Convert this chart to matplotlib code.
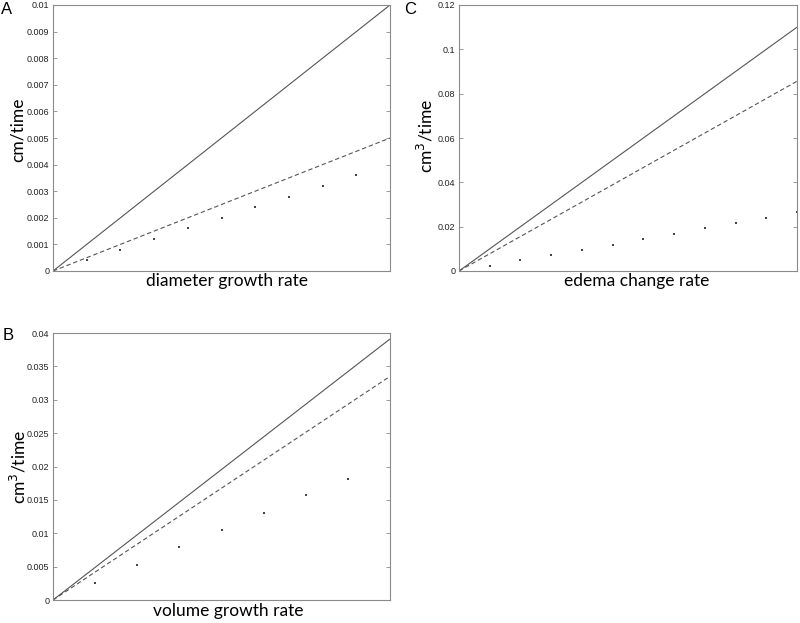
import matplotlib
matplotlib.use("Agg")
import matplotlib.pyplot as plt
import numpy as np

# ---- data ----
# Panel A: diameter growth rate
a_line_x = [0.0, 1.0]
a_solid_y = [0.0, 0.01]
a_dashed_y = [0.0, 0.005]
a_dots_x = [0.1, 0.2, 0.3, 0.4, 0.5, 0.6, 0.7, 0.8, 0.9]
a_dots_y = [0.0004, 0.0008, 0.0012, 0.0016, 0.0020, 0.0024, 0.0028, 0.0032, 0.0036]
a_yticks = [0, 0.001, 0.002, 0.003, 0.004, 0.005, 0.006, 0.007, 0.008, 0.009, 0.01]
a_yticklabels = ["0", "0.001", "0.002", "0.003", "0.004", "0.005", "0.006", "0.007", "0.008", "0.009", "0.01"]

# Panel C: edema change rate
c_line_x = [0.0, 1.0]
c_solid_y = [0.0, 0.11]
c_dashed_y = [0.0, 0.0856]
c_dots_x = [1/11, 2/11, 3/11, 4/11, 5/11, 6/11, 7/11, 8/11, 9/11, 10/11, 1.0]
c_dots_y = [0.0023, 0.0048, 0.0071, 0.0095, 0.0119, 0.0143, 0.0168, 0.0192, 0.0217, 0.0240, 0.0264]
c_yticks = [0, 0.02, 0.04, 0.06, 0.08, 0.1, 0.12]
c_yticklabels = ["0", "0.02", "0.04", "0.06", "0.08", "0.1", "0.12"]

# Panel B: volume growth rate
b_line_x = [0.0, 1.0]
b_solid_y = [0.0, 0.0391]
b_dashed_y = [0.0, 0.0335]
b_dots_x = [1/8, 2/8, 3/8, 4/8, 5/8, 6/8, 7/8]
b_dots_y = [0.0026, 0.0053, 0.0079, 0.0105, 0.0131, 0.0157, 0.0182]
b_yticks = [0, 0.005, 0.01, 0.015, 0.02, 0.025, 0.03, 0.035, 0.04]
b_yticklabels = ["0", "0.005", "0.01", "0.015", "0.02", "0.025", "0.03", "0.035", "0.04"]

W, H = 800, 623
fig = plt.figure(figsize=(W / 100, H / 100), dpi=100)

label_font = "Lato"
tick_font = "Liberation Sans"
spine_col = "#8a8a8a"
line_col = "#555555"


def make_axes(px_left, px_top, px_right, px_bottom):
    return fig.add_axes([px_left / W, 1 - px_bottom / H,
                         (px_right - px_left) / W, (px_bottom - px_top) / H])


def ftext(px, py, s, **kw):
    fig.text(px / W, 1 - py / H, s, **kw)


def style(ax, lx, solid, dashed, dx, dy, yticks, yticklabels, ymax):
    ax.plot(lx, solid, color=line_col, lw=0.8, solid_capstyle="butt")
    ax.plot(lx, dashed, color=line_col, lw=0.8, ls=(0, (4, 2.5)))
    ax.scatter(dx, dy, s=1.0, color="#444444", marker="s", linewidths=0, clip_on=False)
    ax.set_xlim(0, 1)
    ax.set_ylim(0, ymax)
    ax.set_xticks([])
    ax.set_yticks(yticks)
    ax.set_yticklabels(yticklabels, fontsize=6.5, family=tick_font, color="#222222")
    ax.tick_params(axis="y", direction="in", length=3, width=0.6, color=spine_col,
                   right=True, pad=2.5)
    for s in ax.spines.values():
        s.set_color(spine_col)
        s.set_linewidth(0.8)
    return ax


axA = make_axes(53, 5, 390, 271)
style(axA, a_line_x, a_solid_y, a_dashed_y, a_dots_x, a_dots_y, a_yticks, a_yticklabels, 0.01)
axC = make_axes(459, 5, 797, 271)
style(axC, c_line_x, c_solid_y, c_dashed_y, c_dots_x, c_dots_y, c_yticks, c_yticklabels, 0.12)
axB = make_axes(53, 333, 390, 600)
style(axB, b_line_x, b_solid_y, b_dashed_y, b_dots_x, b_dots_y, b_yticks, b_yticklabels, 0.04)

lab_kw = dict(fontsize=12.5, family=label_font, ha="center", va="center")
ftext(227, 281, "diameter growth rate", **lab_kw)
ftext(637, 281, "edema change rate", **lab_kw)
ftext(228, 611, "volume growth rate", **lab_kw)

ylab_kw = dict(fontsize=12.5, family=label_font, ha="center", va="center", rotation=90)
ftext(18, 130, "cm/time", **ylab_kw)
ftext(425, 136, "cm$^3$/time", **ylab_kw)
ftext(18, 467, "cm$^3$/time", **ylab_kw)

let_kw = dict(fontsize=12, family="Liberation Sans", va="center", ha="left")
ftext(1, 10, "A", **let_kw)
ftext(404, 10, "C", **let_kw)
ftext(3, 335, "B", **let_kw)

fig.savefig("out.png", dpi=100)
